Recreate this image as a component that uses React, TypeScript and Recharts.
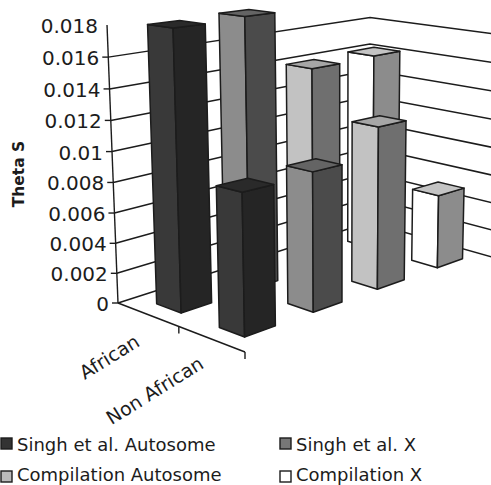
import React from "react";
import { BarChart, Bar, XAxis, YAxis, CartesianGrid } from "recharts";

// ---- data ----
const seriesNames = ["Singh et al. Autosome", "Singh et al. X", "Compilation Autosome", "Compilation X"];
const africanValues = [0.01805, 0.0182, 0.0141, 0.0142];
const nonAfricanValues = [0.0089, 0.0091, 0.011, 0.0052];
const rowLabels = ["African", "Non African"];
const yTicks = [0, 0.002, 0.004, 0.006, 0.008, 0.01, 0.012, 0.014, 0.016, 0.018];

const tableData = seriesNames.map((name, i) => ({
  name,
  african: africanValues[i],
  nonAfrican: nonAfricanValues[i],
}));

// ---- styling ----
const faceLeft = ["#393939", "#8c8c8c", "#c2c2c2", "#ffffff"];
const faceRight = ["#252525", "#4b4b4b", "#6f6f6f", "#8c8c8c"];
const faceTop = ["#2a2a2a", "#646464", "#a6a6a6", "#c4c4c4"];
const legendFill = ["#333333", "#777777", "#bbbbbb", "#ffffff"];
const INK = "#1c1c1c";
const FONT = "'DejaVu Sans', Verdana, sans-serif";

// ---- chart frame ----
const W = 491;
const H = 485;
const PLOT_LEFT = 118;
const PLOT_BOTTOM = 303;
const PLOT_W = W - PLOT_LEFT;
const AXIS_MAX_LABEL = 0.018;
const DOMAIN_MAX = 0.0185;
const AXIS_H = 278; // pixels from 0 up to the 0.018 tick
const PLOT_TOP = PLOT_BOTTOM - (AXIS_H * DOMAIN_MAX) / AXIS_MAX_LABEL;

// ---- oblique projection: flat plot -> perspective box ----
const P00 = [118, 303];
const P10 = [369, 222.4];
const P01 = [245, 352];
const P11 = [499, 259];
const det = (a: number[], b: number[]) => a[0] * b[1] - a[1] * b[0];
const d1 = [P10[0] - P11[0], P10[1] - P11[1]];
const d2 = [P01[0] - P11[0], P01[1] - P11[1]];
const sum = [P00[0] - P10[0] + P11[0] - P01[0], P00[1] - P10[1] + P11[1] - P01[1]];
const G = det(sum, d2) / det(d1, d2);
const K = det(d1, sum) / det(d1, d2);

function project(u: number, w: number, s: number) {
  const d = 1 + G * u + K * w;
  const bx = ((P10[0] - P00[0] + G * P10[0]) * u + (P01[0] - P00[0] + K * P01[0]) * w + P00[0]) / d;
  const by = ((P10[1] - P00[1] + G * P10[1]) * u + (P01[1] - P00[1] + K * P01[1]) * w + P00[1]) / d;
  const lifted = s / (1 + 0.045 * (1 - s));
  const h = (AXIS_H * lifted) / (1 + 0.2 * u - 0.1 * w);
  return { x: bx + (bx - 340) * 1.78e-4 * h, y: by - h };
}
const pts = (list: { x: number; y: number }[]) => list.map((p) => `${p.x},${p.y}`).join(" ");

const rowDepth = [
  [0.16, 0.36],
  [0.66, 0.85],
];

function Box3D(props: any) {
  const { x, y, width, index, row } = props;
  const u0 = (x - PLOT_LEFT) / PLOT_W;
  const u1 = (x + width - PLOT_LEFT) / PLOT_W;
  const [w0, w1] = rowDepth[row];
  const s = (PLOT_BOTTOM - y) / AXIS_H;
  const base = (u: number, w: number) => project(u, w, 0);
  const top = (u: number, w: number) => project(u, w, s);
  const edge = { stroke: INK, strokeWidth: 1.5, strokeLinejoin: "round" as const };
  return (
    <g>
      <polygon points={pts([base(u0, w0), base(u0, w1), top(u0, w1), top(u0, w0)])} fill={faceLeft[index]} {...edge} />
      <polygon points={pts([base(u0, w1), base(u1, w1), top(u1, w1), top(u0, w1)])} fill={faceRight[index]} {...edge} />
      <polygon points={pts([top(u0, w0), top(u0, w1), top(u1, w1), top(u1, w0)])} fill={faceTop[index]} {...edge} />
    </g>
  );
}

function WallLine(props: any) {
  const { y1 } = props;
  const s = (PLOT_BOTTOM - y1) / AXIS_H;
  if (s > 0.95) return null;
  return (
    <polyline
      points={pts([project(0, 0, s), project(1, 0, s), project(1, 1, s)])}
      fill="none"
      stroke={INK}
      strokeWidth={1.5}
    />
  );
}

function AxisTick(props: any) {
  const { y, payload } = props;
  const s = (PLOT_BOTTOM - y) / AXIS_H;
  const p = project(0, 0, s);
  return (
    <g>
      {s < 0.95 && <line x1={p.x - 6} y1={p.y} x2={p.x} y2={p.y} stroke={INK} strokeWidth={1.4} />}
      <text x={p.x - 9} y={p.y + 1} textAnchor="end" dominantBaseline="central" fontFamily={FONT} fontSize={20} fill={INK}>
        {String(payload.value)}
      </text>
    </g>
  );
}

function Decorations() {
  const a0 = project(0, 0, 0);
  const a1 = project(0, 0, 1);
  const f = project(0, 1, 0);
  const mid = project(0, 0.5, 0);
  const labelAnchors = [
    { x: 141, y: 345 },
    { x: 205, y: 367 },
  ];
  return (
    <g>
      <line x1={a0.x} y1={a0.y} x2={a1.x} y2={a1.y} stroke={INK} strokeWidth={1.4} />
      <line x1={a0.x} y1={a0.y} x2={f.x} y2={f.y} stroke={INK} strokeWidth={1.4} />
      <line x1={mid.x} y1={mid.y} x2={mid.x} y2={mid.y + 7} stroke={INK} strokeWidth={1.4} />
      <line x1={f.x} y1={f.y} x2={f.x} y2={f.y + 7} stroke={INK} strokeWidth={1.4} />
      {rowLabels.map((label, i) => (
        <text
          key={label}
          x={labelAnchors[i].x}
          y={labelAnchors[i].y}
          textAnchor="end"
          fontFamily={FONT}
          fontSize={19}
          fill={INK}
          transform={`rotate(-32 ${labelAnchors[i].x} ${labelAnchors[i].y})`}
        >
          {label}
        </text>
      ))}
      <text
        x={24}
        y={174}
        textAnchor="middle"
        fontFamily={FONT}
        fontWeight="bold"
        fontSize={15.5}
        fill={INK}
        transform="rotate(-90 24 174)"
      >
        Theta S
      </text>
      {seriesNames.map((name, i) => {
        const col = i % 2;
        const line = Math.floor(i / 2);
        const sx = col === 0 ? 1 : 280;
        const sy = line === 0 ? 438 : 471;
        return (
          <g key={name}>
            <rect x={sx} y={sy} width={11} height={11} fill={legendFill[i]} stroke={INK} strokeWidth={1.4} />
            <text x={sx + 16} y={line === 0 ? 451 : 480.5} fontFamily={FONT} fontSize={18} fill={INK}>
              {name}
            </text>
          </g>
        );
      })}
    </g>
  );
}

export default function App() {
  return (
    <div style={{ position: "absolute", left: 0, top: 0, width: W, height: H }}>
      <BarChart
        width={W}
        height={H}
        data={tableData}
        margin={{ top: PLOT_TOP, right: 0, bottom: H - PLOT_BOTTOM, left: 0 }}
        barSize={41}
        barGap={-41}
      >
        <CartesianGrid vertical={false} horizontal={(p: any) => <WallLine key={p.index ?? p.y1} {...p} />} syncWithTicks />
        <XAxis dataKey="name" hide />
        <YAxis
          width={PLOT_LEFT}
          domain={[0, DOMAIN_MAX]}
          ticks={yTicks}
          interval={0}
          axisLine={false}
          tickLine={false}
          tick={(p: any) => <AxisTick {...p} />}
        />
        <Bar dataKey="african" isAnimationActive={false} shape={(p: any) => <Box3D {...p} row={0} />} />
        <Bar dataKey="nonAfrican" isAnimationActive={false} shape={(p: any) => <Box3D {...p} row={1} />} />
        <Decorations />
      </BarChart>
    </div>
  );
}
